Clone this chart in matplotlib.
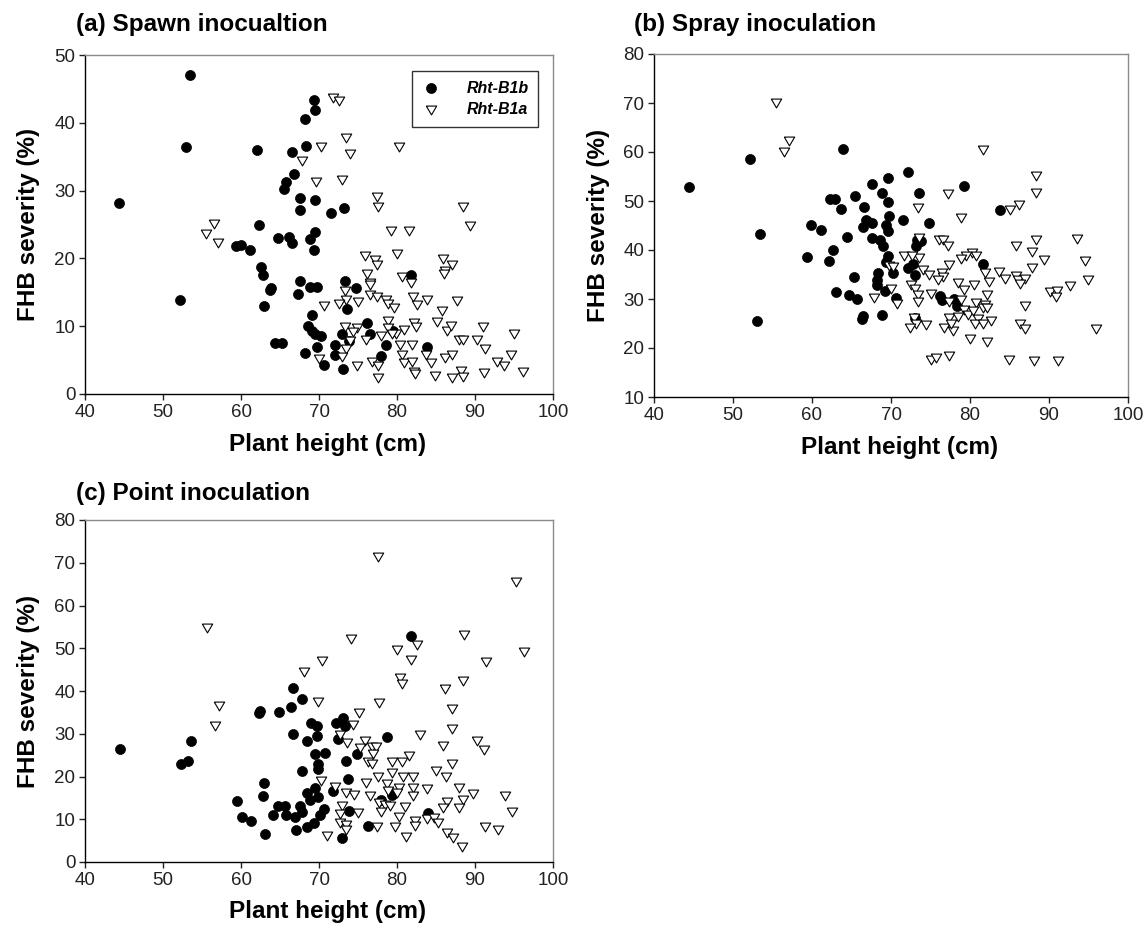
import matplotlib
matplotlib.use("Agg")
import matplotlib.pyplot as plt

plt.rcParams['font.family'] = ['Liberation Sans', 'DejaVu Sans']

# (a) Spawn inoculation
a_b1b_x = [44.4, 53.4, 53.0, 52.2, 62.1, 62.3, 59.3, 60.0, 61.1, 62.6, 62.8, 63.7, 63.9, 62.9, 64.7,
           64.4, 65.3, 65.5, 65.8, 66.5, 66.8, 66.2, 66.5, 67.6, 67.6, 67.5, 67.3, 68.2, 68.3, 69.4,
           69.5, 69.5, 69.5, 68.8, 69.3, 68.8, 69.7, 69.1, 68.6, 69.1, 69.5, 70.3, 69.7, 68.2, 70.6,
           71.5, 73.2, 73.3, 74.8, 73.6, 72.9, 76.2, 76.5, 72.1, 72.1, 73.1, 73.8, 77.9, 78.6, 79.5,
           81.8, 83.9]
a_b1b_y = [28.1, 47.1, 36.4, 13.8, 36.0, 24.9, 21.8, 22.0, 21.3, 18.8, 17.5, 15.3, 15.7, 13.0, 23.0,
           7.5, 7.5, 30.3, 31.2, 35.7, 32.5, 23.1, 22.2, 28.9, 27.2, 16.7, 14.8, 40.6, 36.6, 43.3,
           41.9, 28.6, 23.9, 22.9, 21.3, 15.8, 15.8, 11.7, 10.0, 9.3, 8.8, 8.5, 6.9, 6.1, 4.3,
           26.7, 27.5, 16.6, 15.7, 12.5, 8.8, 10.5, 8.9, 7.2, 5.8, 3.7, 7.8, 5.6, 7.2, 9.3,
           17.6, 7.0]
a_b1a_x = [56.5, 55.5, 57.1, 71.8, 72.6, 67.8, 70.2, 69.6, 70.6, 70.0, 73.5, 74.0, 80.3, 72.9, 77.4,
           77.6, 88.4, 89.4, 79.2, 81.5, 75.9, 77.2, 77.4, 80.0, 85.9, 87.0, 86.2, 86.0, 76.2, 76.5,
           76.5, 80.6, 81.8, 73.3, 73.4, 76.5, 77.4, 78.6, 78.9, 79.6, 75.0, 72.6, 82.0, 82.6, 83.8,
           87.7, 85.8, 73.3, 74.9, 74.3, 78.9, 78.9, 79.9, 80.9, 82.2, 82.4, 85.1, 86.4, 86.9, 91.0,
           74.0, 76.0, 78.0, 79.4, 80.4, 81.9, 87.9, 88.4, 90.2, 91.3, 95.0, 73.5, 73.0, 80.6, 80.9,
           81.9, 76.8, 77.5, 74.9, 83.7, 84.4, 86.2, 87.0, 82.2, 82.3, 77.5, 84.9, 87.0, 88.2, 88.4,
           91.2, 92.8, 93.7, 94.6, 96.1]
a_b1a_y = [25.1, 23.6, 22.2, 43.6, 43.2, 34.4, 36.4, 31.3, 13.0, 5.2, 37.7, 35.4, 36.4, 31.5, 29.1,
           27.6, 27.6, 24.8, 24.1, 24.1, 20.3, 19.7, 19.0, 20.6, 19.9, 19.1, 18.2, 17.7, 17.7, 16.4,
           16.1, 17.2, 16.4, 15.2, 13.9, 14.6, 14.3, 13.9, 13.3, 12.7, 13.6, 13.3, 14.3, 13.2, 13.9,
           13.7, 12.3, 9.9, 9.7, 9.2, 10.7, 9.7, 8.9, 9.5, 10.5, 9.9, 10.6, 9.3, 10.0, 9.9,
           7.8, 8.0, 8.5, 8.8, 7.2, 7.2, 8.0, 7.9, 8.0, 6.6, 8.8, 6.6, 5.4, 5.8, 4.6,
           4.7, 4.7, 4.1, 4.1, 5.7, 4.6, 5.3, 5.8, 3.3, 2.9, 2.3, 2.6, 2.4, 3.4, 2.5,
           3.1, 4.7, 4.1, 5.7, 3.3]

# (b) Spray inoculation
b_b1b_x = [44.4, 52.2, 53.4, 53.0, 63.9, 59.9, 61.1, 59.4, 62.7, 62.1, 62.3, 62.9, 63.7, 64.4, 65.3,
           63.0, 64.7, 65.7, 66.3, 66.5, 65.5, 66.6, 66.8, 66.5, 67.6, 68.9, 69.6, 69.6, 72.1, 73.5,
           79.2, 83.8, 71.5, 69.7, 69.4, 69.6, 67.6, 66.9, 74.8, 67.6, 68.6, 69.0, 73.3, 73.8, 73.2,
           69.6, 69.4, 70.3, 72.1, 72.8, 73.1, 68.4, 68.2, 68.2, 69.2, 70.6, 68.8, 76.2, 76.4, 78.0,
           78.4, 81.6, 73.1]
b_b1b_y = [52.9, 58.6, 43.3, 25.6, 60.6, 45.2, 44.1, 38.5, 39.9, 37.7, 50.5, 50.4, 48.4, 42.7, 34.5,
           31.4, 30.9, 30.0, 25.9, 26.5, 51.1, 48.8, 46.1, 44.6, 53.5, 51.6, 54.7, 49.8, 55.9, 51.6,
           53.0, 48.1, 46.1, 46.9, 45.2, 43.8, 45.5, 45.9, 45.6, 42.4, 42.1, 40.9, 42.1, 41.8, 40.9,
           38.8, 37.5, 35.4, 36.3, 37.2, 35.0, 35.3, 33.8, 32.9, 31.6, 30.2, 26.8, 30.7, 29.7, 30.0,
           28.5, 37.2, 26.1]
b_b1a_x = [55.5, 57.1, 56.5, 81.7, 88.4, 88.4, 77.2, 86.2, 85.1, 73.4, 78.9, 85.8, 88.3, 87.8, 93.6,
           73.5, 76.1, 76.6, 77.2, 80.3, 80.8, 73.5, 71.7, 72.6, 79.5, 78.8, 77.3, 89.4, 94.6, 69.8,
           70.3, 74.0, 74.8, 76.4, 76.6, 75.9, 81.9, 83.7, 84.4, 85.8, 86.1, 86.9, 86.3, 87.8, 82.4,
           78.5, 79.2, 80.5, 72.5, 73.0, 73.4, 70.0, 67.8, 70.7, 75.1, 73.4, 77.3, 78.9, 82.2, 80.8,
           81.9, 81.6, 82.1, 79.3, 79.7, 80.4, 90.1, 91.0, 90.9, 92.7, 94.9, 87.0, 82.7, 77.4, 78.5,
           81.0, 80.6, 81.6, 86.3, 87.0, 96.0, 72.9, 73.2, 74.4, 72.4, 76.7, 77.9, 77.6, 80.0, 82.1,
           75.0, 75.7, 77.4, 84.9, 88.1, 91.1]
b_b1a_y = [70.0, 62.2, 60.0, 60.5, 55.2, 51.6, 51.5, 49.1, 48.1, 48.6, 46.5, 40.9, 42.0, 39.5, 42.3,
           42.5, 42.0, 42.1, 40.8, 39.3, 38.8, 38.3, 38.8, 38.7, 38.8, 38.2, 37.0, 37.9, 37.7, 36.8,
           36.5, 36.0, 34.8, 35.3, 34.5, 33.8, 35.3, 35.5, 34.1, 34.6, 33.9, 34.1, 33.1, 36.3, 33.4,
           33.3, 31.9, 32.9, 32.9, 32.0, 30.9, 32.0, 30.2, 29.0, 31.1, 29.3, 29.4, 29.7, 30.9, 29.2,
           28.8, 28.2, 28.2, 27.7, 26.8, 27.5, 31.4, 31.6, 30.4, 32.7, 33.9, 28.5, 25.6, 26.1, 26.3,
           25.9, 24.8, 24.8, 25.0, 23.9, 23.9, 26.1, 24.8, 24.6, 24.1, 24.1, 23.4, 24.8, 21.9, 21.2,
           17.5, 17.9, 18.3, 17.6, 17.3, 17.3]

# (c) Point inoculation
c_b1b_x = [44.5, 53.6, 53.2, 52.3, 62.4, 62.3, 64.9, 66.4, 66.7, 67.8, 69.0, 69.8, 69.8, 66.7, 68.4,
           69.5, 70.8, 69.9, 69.9, 67.8, 62.9, 62.8, 59.5, 60.1, 61.3, 64.1, 64.7, 65.6, 65.8, 66.9,
           67.5, 67.8, 68.4, 69.5, 68.9, 69.9, 70.6, 70.1, 69.4, 68.4, 67.0, 63.1, 71.8, 72.2, 73.1,
           73.3, 72.4, 78.7, 74.9, 73.4, 73.7, 73.8, 78.0, 79.3, 84.0, 76.3, 72.9, 81.8]
c_b1b_y = [26.5, 28.2, 23.6, 22.9, 35.3, 34.8, 35.0, 36.2, 40.6, 38.1, 32.5, 31.7, 29.5, 30.0, 28.3,
           25.3, 25.6, 22.9, 21.8, 21.3, 18.4, 15.5, 14.2, 10.5, 9.6, 10.9, 13.1, 13.0, 10.9, 10.5,
           13.0, 11.8, 16.1, 17.3, 14.4, 15.2, 12.3, 10.9, 9.2, 8.1, 7.5, 6.5, 16.6, 32.5, 33.6,
           31.7, 28.7, 29.3, 25.3, 23.6, 19.4, 12.0, 14.5, 15.7, 11.4, 8.4, 5.6, 52.9]
c_b1a_x = [55.6, 57.2, 56.7, 68.1, 70.4, 69.9, 70.3, 72.1, 71.0, 77.5, 95.2, 74.1, 88.6, 82.5, 80.0,
           81.8, 96.3, 91.4, 80.4, 80.7, 88.5, 86.2, 77.7, 87.0, 75.1, 74.3, 87.1, 72.7, 73.6, 75.9,
           82.9, 76.8, 77.3, 75.2, 76.9, 85.9, 90.3, 91.2, 76.3, 76.8, 79.3, 80.7, 81.6, 87.1, 85.0,
           79.3, 80.8, 82.0, 86.3, 77.5, 76.0, 78.7, 80.2, 82.1, 83.9, 88.0, 73.5, 74.5, 76.6, 78.9,
           80.0, 82.0, 89.7, 93.8, 77.7, 78.5, 79.1, 86.4, 85.9, 88.4, 87.9, 73.0, 72.7, 75.0, 78.0,
           81.0, 80.2, 94.8, 82.3, 82.3, 83.8, 84.7, 85.3, 72.7, 73.4, 73.5, 77.4, 79.7, 81.2, 86.4,
           87.2, 88.3, 91.3, 93.0]
c_b1a_y = [54.7, 36.5, 31.9, 44.4, 47.1, 37.4, 19.0, 17.6, 6.0, 71.4, 65.6, 52.2, 53.0, 50.8, 49.6,
           47.3, 49.2, 46.7, 43.0, 41.7, 42.4, 40.4, 37.1, 35.7, 34.8, 32.1, 31.1, 29.7, 27.9, 28.3,
           29.7, 27.0, 26.8, 26.6, 25.2, 27.2, 28.2, 26.1, 23.5, 22.9, 23.3, 23.3, 24.8, 22.9, 21.4,
           20.8, 19.8, 19.8, 20.0, 20.0, 18.4, 18.3, 17.3, 17.3, 17.0, 17.3, 16.2, 15.7, 15.5, 16.5,
           16.1, 15.5, 15.9, 15.5, 13.7, 13.4, 13.0, 14.1, 12.7, 14.4, 12.7, 13.2, 11.3, 11.4, 11.8,
           12.8, 10.6, 11.8, 9.5, 8.4, 10.0, 10.2, 9.1, 9.2, 8.7, 7.4, 8.1, 8.1, 5.8, 6.9,
           5.6, 3.6, 8.3, 7.4]

titles = ["(a) Spawn inocualtion", "(b) Spray inoculation", "(c) Point inoculation"]
legend_labels = ["Rht-B1b", "Rht-B1a"]

fig = plt.figure(figsize=(11.48, 9.27), dpi=100)
W, H = 1148, 927


def make_ax(l, t, r, b):
    return fig.add_axes([l / W, 1 - b / H, (r - l) / W, (b - t) / H])


ax_a = make_ax(85, 55, 553, 394)
ax_b = make_ax(654, 54, 1128, 397)
ax_c = make_ax(85, 520, 553, 862)

# slightly flattened down-pointing triangle
tri = [(-1, 0.85), (1, 0.85), (0, -0.85), (-1, 0.85)]

panels = [
    (ax_a, a_b1b_x, a_b1b_y, a_b1a_x, a_b1a_y, (0, 50), range(0, 51, 10)),
    (ax_b, b_b1b_x, b_b1b_y, b_b1a_x, b_b1a_y, (10, 80), range(10, 81, 10)),
    (ax_c, c_b1b_x, c_b1b_y, c_b1a_x, c_b1a_y, (0, 80), range(0, 81, 10)),
]

for ax, bx, by, ax_x, ax_y, ylim, yt in panels:
    ax.scatter(bx, by, s=52, marker='o', color='black', edgecolors='black', linewidths=0.5,
               zorder=3, label=legend_labels[0])
    ax.scatter(ax_x, ax_y, s=56, marker=tri, facecolors='white', edgecolors='black',
               linewidths=0.8, zorder=4, label=legend_labels[1])
    ax.set_xlim(40, 100)
    ax.set_ylim(*ylim)
    ax.set_xticks(range(40, 101, 10))
    ax.set_yticks(list(yt))
    ax.tick_params(direction='out', length=4, width=1, labelsize=13.5, colors='#222222', pad=3)
    for side in ['left', 'bottom']:
        ax.spines[side].set_color('black')
        ax.spines[side].set_linewidth(1.0)
    for side in ['top', 'right']:
        ax.spines[side].set_color('#8a8a8a')
        ax.spines[side].set_linewidth(1.0)
    ax.set_xlabel("Plant height (cm)", fontsize=17.5, fontweight='bold')
    ax.set_ylabel("FHB severity (%)", fontsize=17.5, fontweight='bold')
    ax.yaxis.label.set_va('center')
    ax.xaxis.label.set_va('top')

ax_a.xaxis.set_label_coords(0.518, -0.115)
ax_b.xaxis.set_label_coords(0.518, -0.115)
ax_c.xaxis.set_label_coords(0.518, -0.112)
ax_a.yaxis.set_label_coords(-0.12, 0.5)
ax_b.yaxis.set_label_coords(-0.118, 0.5)
ax_c.yaxis.set_label_coords(-0.12, 0.5)

fig.text(76 / W, 1 - 24 / H, titles[0], fontsize=17.5, fontweight='bold', va='center', ha='left')
fig.text(634 / W, 1 - 24 / H, titles[1], fontsize=17.5, fontweight='bold', va='center', ha='left')
fig.text(76 / W, 1 - 493 / H, titles[2], fontsize=17.5, fontweight='bold', va='center', ha='left')

leg = ax_a.legend(loc='upper right', bbox_to_anchor=(1 - 15 / 468, 1 - 16 / 339),
                  borderaxespad=0, fancybox=False, frameon=True, handletextpad=1.6,
                  borderpad=0.6, labelspacing=0.4, handlelength=1.2,
                  prop={'size': 11.5, 'weight': 'bold', 'style': 'italic'})
leg.get_frame().set_edgecolor('black')
leg.get_frame().set_linewidth(1.0)

fig.savefig("out.png", dpi=100)
